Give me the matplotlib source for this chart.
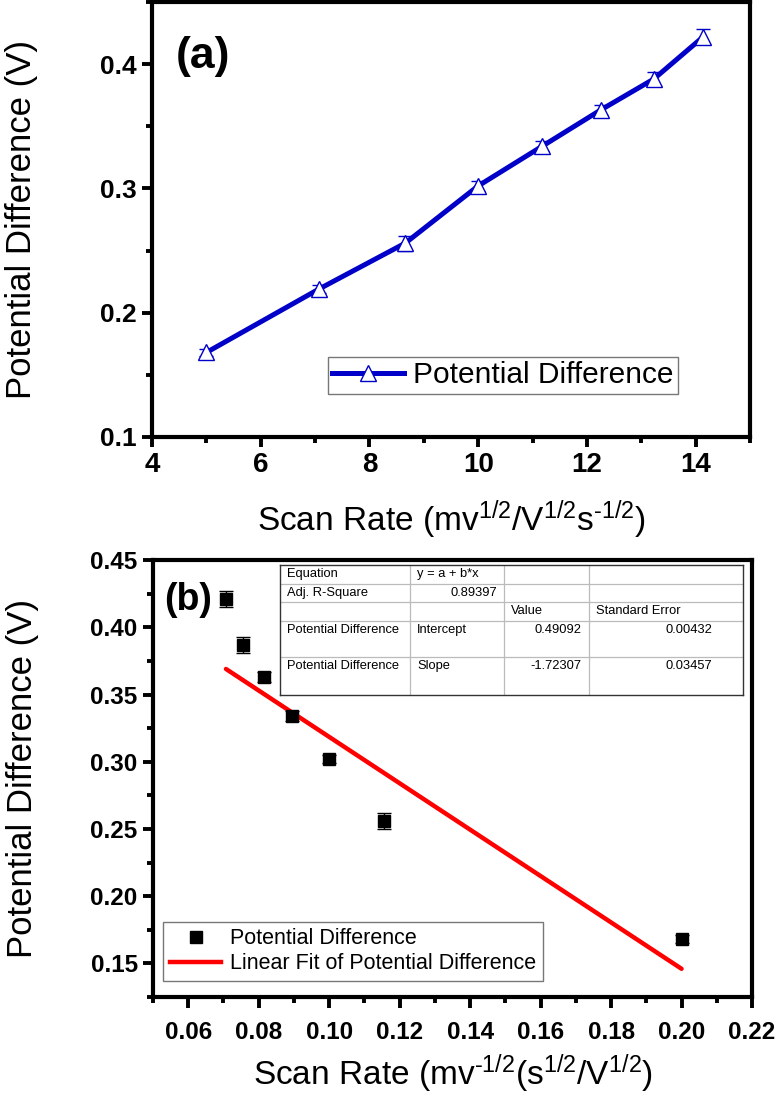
import matplotlib
matplotlib.use('Agg')
import matplotlib.pyplot as plt
from matplotlib.ticker import MultipleLocator
from matplotlib.lines import Line2D

plt.rcParams['font.family'] = ['Liberation Sans', 'DejaVu Sans']
plt.rcParams['mathtext.fontset'] = 'custom'
plt.rcParams['mathtext.rm'] = 'Liberation Sans'
plt.rcParams['mathtext.it'] = 'Liberation Sans:italic'
plt.rcParams['mathtext.bf'] = 'Liberation Sans:bold'

# (a) potential difference vs square root of scan rate
sqrt_rate = [5.0, 7.07, 8.66, 10.0, 11.18, 12.25, 13.23, 14.14]
pot_diff = [0.168, 0.219, 0.256, 0.302, 0.334, 0.363, 0.388, 0.422]
pot_err = [0.003, 0.003, 0.006, 0.004, 0.004, 0.004, 0.006, 0.006]

# (b) potential difference vs inverse square root of scan rate
inv_rate = [0.0707, 0.0756, 0.0816, 0.0894, 0.1, 0.1155, 0.2]
pot_diff_b = [0.421, 0.387, 0.363, 0.334, 0.302, 0.256, 0.168]
pot_err_b = [0.006, 0.006, 0.004, 0.004, 0.003, 0.006, 0.003]
fit_x = [0.0707, 0.2]
fit_y = [0.369, 0.146]

# fit report table (Origin style)
table_rows = [
    ['Equation', 'y = a + b*x', '', ''],
    ['Adj. R-Square', '0.89397', '', ''],
    ['', '', 'Value', 'Standard Error'],
    ['Potential Difference', 'Intercept', '0.49092', '0.00432'],
    ['Potential Difference', 'Slope', '-1.72307', '0.03457'],
]

blue = '#0000C8'


def style_axes(ax, tick_size, tlen, tpad):
    for s in ax.spines.values():
        s.set_linewidth(3)
    ax.tick_params(which='major', direction='out', length=tlen, width=2.8,
                   labelsize=tick_size, pad=tpad, top=False, right=False)
    ax.tick_params(which='minor', direction='out', length=4, width=2.8,
                   top=False, right=False)
    for lab in ax.get_xticklabels() + ax.get_yticklabels():
        lab.set_fontweight('bold')


def is_num(s):
    try:
        float(s)
        return True
    except ValueError:
        return False


fig = plt.figure(figsize=(7.76, 10.93), dpi=100)

# ---------- panel (a) ----------
ax1 = fig.add_axes([0.1959, 0.6002, 0.7706, 0.398])
ax1.errorbar(sqrt_rate, pot_diff, yerr=pot_err, color=blue, lw=3.6,
             marker='^', ms=11, mfc='white', mec=blue, mew=1.0,
             ecolor=blue, elinewidth=1.0, capsize=5, capthick=1.0)
ax1.set_xlim(4, 15)
ax1.set_ylim(0.1, 0.45)
ax1.xaxis.set_major_locator(MultipleLocator(2))
ax1.xaxis.set_minor_locator(MultipleLocator(1))
ax1.yaxis.set_major_locator(MultipleLocator(0.1))
ax1.yaxis.set_minor_locator(MultipleLocator(0.05))
style_axes(ax1, 19, 7, 4)
ax1.tick_params(axis='x', labelsize=20)
ax1.set_xlabel(r'Scan Rate (mv$^{\mathregular{1/2}}$/V$^{\mathregular{1/2}}$s$^{\text{-1/2}}$)',
               fontsize=24, labelpad=14)
ax1.set_ylabel('Potential Difference (V)', fontsize=25)
ax1.yaxis.set_label_coords(-0.19, 0.5)
ax1.text(0.085, 0.875, '(a)', transform=ax1.transAxes, fontsize=32,
         fontweight='bold', ha='center', va='center')
h_a = Line2D([], [], color=blue, lw=3.6, marker='^', ms=11, mfc='white',
             mec=blue, mew=1.0)
leg1 = ax1.legend([h_a], ['Potential Difference'], loc='lower left',
                  bbox_to_anchor=(0.294, 0.099), borderaxespad=0,
                  fontsize=21.5, frameon=True, fancybox=False,
                  handlelength=2.4, handletextpad=0.3, borderpad=0.15)
leg1.get_frame().set_edgecolor('#555555')
leg1.get_frame().set_linewidth(1.0)

# ---------- panel (b) ----------
ax2 = fig.add_axes([0.1972, 0.0878, 0.7719, 0.3998])
ax2.errorbar(inv_rate, pot_diff_b, yerr=pot_err_b, fmt='s', color='black',
             ms=8.5, ecolor='black', elinewidth=1.0, capsize=5, capthick=1.0)
ax2.plot(fit_x, fit_y, color='#FF0000', lw=3.2, solid_capstyle='round')
ax2.set_xlim(0.05, 0.22)
ax2.set_ylim(0.125, 0.45)
ax2.xaxis.set_major_locator(MultipleLocator(0.02))
ax2.xaxis.set_minor_locator(MultipleLocator(0.01))
ax2.yaxis.set_major_locator(MultipleLocator(0.05))
ax2.yaxis.set_minor_locator(MultipleLocator(0.025))
ax2.xaxis.set_major_formatter(plt.FormatStrFormatter('%.2f'))
ax2.yaxis.set_major_formatter(plt.FormatStrFormatter('%.2f'))
style_axes(ax2, 17.5, 7, 4)
ax2.tick_params(axis='x', which='major', length=8, pad=9)
ax2.set_xlabel(r'Scan Rate (mv$^{\text{-1/2}}$(s$^{\mathregular{1/2}}$/V$^{\mathregular{1/2}}$)',
               fontsize=24, labelpad=6)
ax2.set_ylabel('Potential Difference (V)', fontsize=25)
ax2.yaxis.set_label_coords(-0.19, 0.5)
ax2.text(0.058, 0.908, '(b)', transform=ax2.transAxes, fontsize=27,
         fontweight='bold', ha='center', va='center')
h_pts = Line2D([], [], ls='none', marker='s', color='black', ms=8.5)
h_fit = Line2D([], [], color='#FF0000', lw=3.2)
leg2 = ax2.legend([h_pts, h_fit], ['Potential Difference',
                                   'Linear Fit of Potential Difference'],
                  loc='lower left', bbox_to_anchor=(0.017, 0.037),
                  borderaxespad=0, fontsize=15.5, frameon=True, fancybox=False,
                  handlelength=2.4, handletextpad=0.4, borderpad=0.3,
                  labelspacing=0.2)
leg2.get_frame().set_edgecolor('#555555')
leg2.get_frame().set_linewidth(1.0)

# ---------- fit table ----------
tab = fig.add_axes([0.3608, 0.3641, 0.5966, 0.119])
tab.set_xlim(0, 1)
tab.set_ylim(1, 0)
tab.set_xticks([])
tab.set_yticks([])
for s in tab.spines.values():
    s.set_linewidth(1.0)
    s.set_edgecolor('#333333')
col_edges = [0, 0.281, 0.484, 0.667, 1]
row_edges = [0, 0.146, 0.285, 0.431, 0.708, 1]
right_pos = [None, 0.468, 0.652, 0.933]
for c in col_edges[1:-1]:
    tab.axvline(c, color='#bbbbbb', lw=0.9)
for r in row_edges[1:-1]:
    tab.axhline(r, color='#bbbbbb', lw=0.9)
for i, row in enumerate(table_rows):
    y = row_edges[i] + 0.07
    for j, txt in enumerate(row):
        if not txt:
            continue
        if is_num(txt):
            tab.text(right_pos[j], y, txt, ha='right', va='center', fontsize=9.3)
        else:
            tab.text(col_edges[j] + 0.015, y, txt, ha='left', va='center', fontsize=9.3)

fig.savefig('out.png', dpi=100)
